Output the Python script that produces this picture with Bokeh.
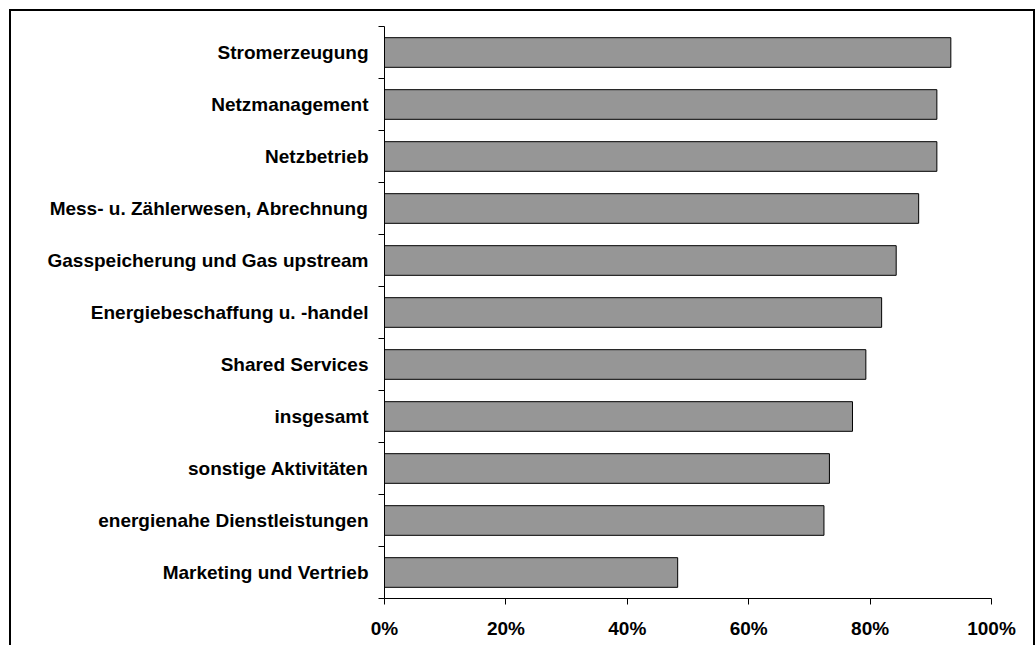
from bokeh.plotting import figure
from bokeh.models import Range1d, FixedTicker, NumeralTickFormatter, ColumnDataSource
from bokeh.embed import file_html
from bokeh.resources import INLINE

categories = [
    "Stromerzeugung",
    "Netzmanagement",
    "Netzbetrieb",
    "Mess- u. Zählerwesen, Abrechnung",
    "Gasspeicherung und Gas upstream",
    "Energiebeschaffung u. -handel",
    "Shared Services",
    "insgesamt",
    "sonstige Aktivitäten",
    "energienahe Dienstleistungen",
    "Marketing und Vertrieb",
]
shares = [0.933, 0.910, 0.910, 0.880, 0.843, 0.819, 0.793, 0.771, 0.733, 0.724, 0.483]
x_ticks = [0, 0.2, 0.4, 0.6, 0.8, 1.0]

n = len(categories)
positions = [i + 0.5 for i in range(n)]
boundaries = [float(i) for i in range(n + 1)]

FONT = "Liberation Sans"

p = figure(
    width=1026, height=636,
    x_range=Range1d(0, 1), y_range=Range1d(n, 0),
    output_backend="svg", toolbar_location=None,
    min_border_left=373, min_border_top=15,
    min_border_right=46, min_border_bottom=49,
)
p.styles = {
    "margin-left": "9px",
    "margin-top": "9px",
    "border-top": "2px solid black",
    "border-left": "2px solid black",
    "border-right": "2px solid black",
}

src = ColumnDataSource(dict(y=positions, v=shares))
p.hbar(y="y", left=0, right="v", height=0.57, source=src,
       fill_color="#969696", line_color="black", line_width=1)

p.xgrid.grid_line_color = None
p.ygrid.grid_line_color = None
p.outline_line_color = None

# y axis: labels at category centres, ticks at category boundaries
p.yaxis.ticker = FixedTicker(ticks=positions, minor_ticks=boundaries)
p.yaxis.major_label_overrides = {pos: cat for pos, cat in zip(positions, categories)}
p.yaxis.major_tick_out = 0
p.yaxis.major_tick_in = 0
p.yaxis.minor_tick_out = 6
p.yaxis.minor_tick_in = 0
p.yaxis.minor_tick_line_color = "black"
p.yaxis.axis_line_color = "black"
p.yaxis.major_label_standoff = 10
p.yaxis.major_label_text_font = FONT
p.yaxis.major_label_text_font_style = "bold"
p.yaxis.major_label_text_font_size = "19px"
p.yaxis.major_label_text_color = "black"

# x axis
p.xaxis.ticker = FixedTicker(ticks=x_ticks)
p.xaxis.formatter = NumeralTickFormatter(format="0%")
p.xaxis.major_tick_out = 6
p.xaxis.major_tick_in = 0
p.xaxis.minor_tick_line_color = None
p.xaxis.axis_line_color = "black"
p.xaxis.major_tick_line_color = "black"
p.xaxis.major_label_standoff = 13
p.xaxis.major_label_text_font = FONT
p.xaxis.major_label_text_font_style = "bold"
p.xaxis.major_label_text_font_size = "19px"
p.xaxis.major_label_text_color = "black"

open("out.html", "w").write(file_html(p, INLINE))
